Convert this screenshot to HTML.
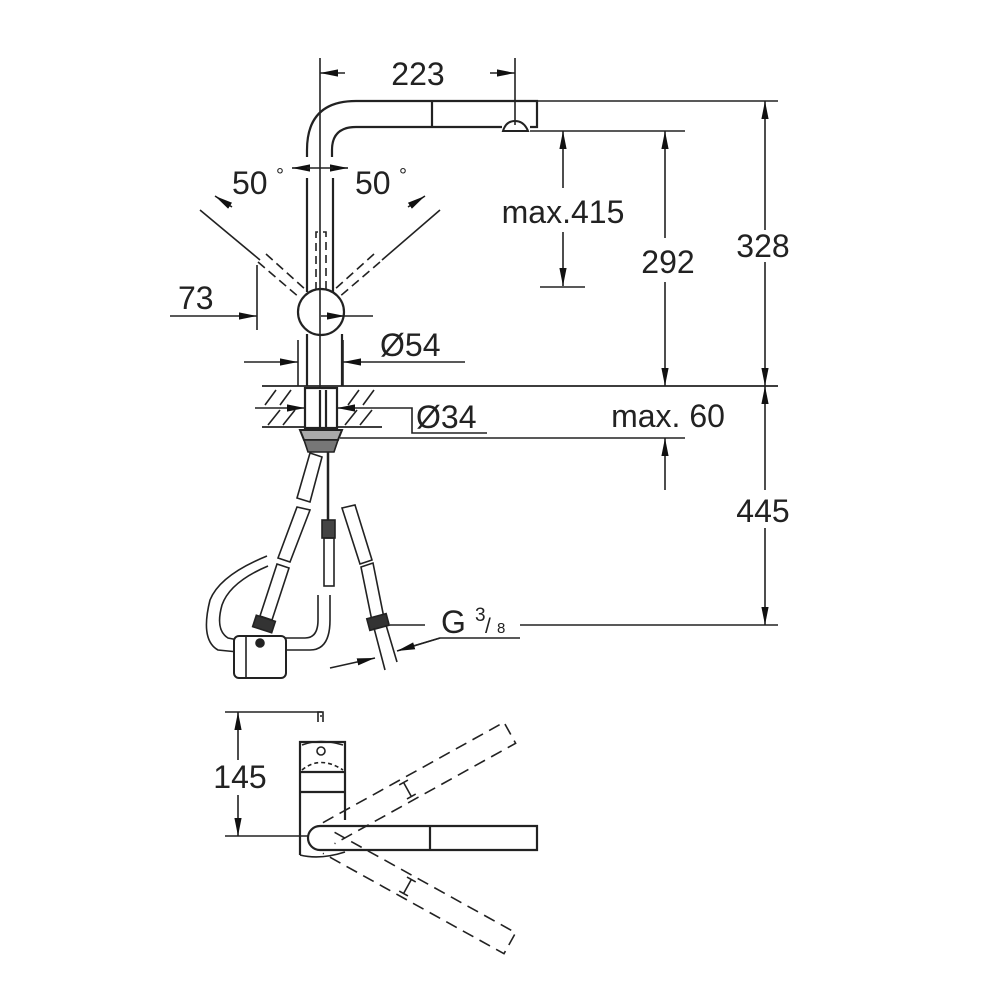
<!DOCTYPE html>
<html><head><meta charset="utf-8"><style>
html,body{margin:0;padding:0;background:#fff}
svg{display:block}
text{font-family:"Liberation Sans",Arial,sans-serif;fill:#222}
</style></head><body>
<svg width="1000" height="1000" viewBox="0 0 1000 1000" xmlns="http://www.w3.org/2000/svg">
<defs>
<marker id="a" viewBox="0 0 12 6" refX="12" refY="3" markerWidth="18" markerHeight="9" orient="auto" markerUnits="userSpaceOnUse"><path d="M0,0.6 L12,3 L0,5.4Z" fill="#111"/></marker>
<marker id="b" viewBox="0 0 12 6" refX="0" refY="3" markerWidth="18" markerHeight="9" orient="auto" markerUnits="userSpaceOnUse"><path d="M12,0.6 L0,3 L12,5.4Z" fill="#111"/></marker>
</defs>
<g stroke="#222" fill="none" stroke-width="1.6">
<line x1="320" y1="58" x2="320" y2="440"/>
<line x1="515" y1="58" x2="515" y2="125"/>
<line x1="345" y1="73" x2="320" y2="73" marker-end="url(#a)"/>
<line x1="490" y1="73" x2="515" y2="73" marker-end="url(#a)"/>
<path d="M307,157 V150 Q307,101 356,101 H537 V127 H530" stroke-width="2.2"/>
<path d="M332,157 V150 Q332,127 356,127 H502" stroke-width="2.2"/>
<line x1="432" y1="101" x2="432" y2="126" stroke-width="2.2"/>
<path d="M503,131 Q506,121 515,121 Q524,121 528,131 Z" stroke-width="2"/>
<line x1="292" y1="168" x2="307" y2="168" marker-start="url(#b)"/>
<line x1="333" y1="168" x2="348" y2="168" marker-end="url(#a)"/>
<line x1="307" y1="168" x2="333" y2="168"/>
<line x1="307" y1="178" x2="307" y2="292" stroke-width="2.2"/>
<line x1="333" y1="178" x2="333" y2="292" stroke-width="2.2"/>
<path d="M316,290 V232 H326 V290" stroke-dasharray="8,5"/>
<circle cx="321" cy="312" r="23" stroke-width="2.2"/>
<line x1="307" y1="334" x2="307" y2="386" stroke-width="2.2"/>
<line x1="342" y1="334" x2="342" y2="386" stroke-width="2.2"/>
<line x1="321" y1="316" x2="345" y2="316" marker-end="url(#a)"/>
<line x1="345" y1="316" x2="373" y2="316"/>
<line x1="200" y1="210" x2="260" y2="260"/>
<path d="M258,262 L300,298 M266,254 L306,290" stroke-dasharray="9,5"/>
<line x1="215" y1="196" x2="232" y2="207" marker-start="url(#b)"/>
<line x1="440" y1="210" x2="382" y2="260"/>
<path d="M380,262 L338,298 M374,254 L334,290" stroke-dasharray="9,5"/>
<line x1="425" y1="196" x2="408" y2="207" marker-start="url(#b)"/>
<line x1="170" y1="316" x2="257" y2="316" marker-end="url(#a)"/>
<line x1="257" y1="265" x2="257" y2="330"/>
<line x1="298" y1="340" x2="298" y2="386"/>
<line x1="343" y1="340" x2="343" y2="386"/>
<line x1="244" y1="362" x2="298" y2="362" marker-end="url(#a)"/>
<line x1="465" y1="362" x2="343" y2="362" marker-end="url(#a)"/>
<line x1="262" y1="386" x2="778" y2="386" stroke-width="1.8"/>
<line x1="262" y1="427" x2="382" y2="427" stroke-width="1.8"/>
<path d="M265,405 L276,390 M280,405 L291,390 M268,425 L280,410 M283,425 L295,410 M348,405 L359,390 M363,405 L374,390 M345,425 L357,410 M360,425 L372,410"/>
<rect x="305" y="388" width="32" height="40" fill="#fff" stroke-width="2.2"/>
<line x1="320" y1="390" x2="320" y2="428" stroke-width="2.2"/>
<line x1="326" y1="390" x2="326" y2="428" stroke-width="2.2"/>
<line x1="255" y1="408" x2="305" y2="408" marker-end="url(#a)"/>
<line x1="380" y1="408" x2="337" y2="408" marker-end="url(#a)"/>
<path d="M380,408 H412 V433 H487"/>
<path d="M300,430 H342 L338,440 H304 Z" fill="#aaa" stroke-width="2"/>
<path d="M304,440 H338 L334,452 H308 Z" fill="#777" stroke-width="1.6"/>
<line x1="340" y1="438" x2="685" y2="438"/>
<line x1="537" y1="101" x2="778" y2="101"/>
<line x1="530" y1="131" x2="685" y2="131"/>
<line x1="520" y1="625" x2="778" y2="625"/>
<line x1="765" y1="230" x2="765" y2="101" marker-end="url(#a)"/>
<line x1="765" y1="262" x2="765" y2="386" marker-end="url(#a)"/>
<line x1="765" y1="490" x2="765" y2="386" marker-end="url(#a)"/>
<line x1="765" y1="528" x2="765" y2="625" marker-end="url(#a)"/>
<line x1="665" y1="238" x2="665" y2="131" marker-end="url(#a)"/>
<line x1="665" y1="282" x2="665" y2="386" marker-end="url(#a)"/>
<line x1="665" y1="490" x2="665" y2="438" marker-end="url(#a)"/>
<line x1="563" y1="188" x2="563" y2="131" marker-end="url(#a)"/>
<line x1="563" y1="232" x2="563" y2="286" marker-end="url(#a)"/>
<line x1="540" y1="287" x2="585" y2="287"/>
<path d="M310,453 L322,457 L310,502 L297,498 Z"/>
<path d="M297,507 L310,510 L290,562 L278,558 Z"/>
<path d="M277,564 L289,568 L272,620 L260,616 Z"/>
<rect x="254" y="618" width="20" height="12" fill="#333" transform="rotate(18 264 624)"/>
<line x1="328" y1="452" x2="328" y2="520" stroke-width="2.5"/>
<rect x="322" y="520" width="13" height="18" fill="#444"/>
<rect x="324" y="538" width="10" height="48"/>
<path d="M342,508 L355,505 L372,560 L360,564 Z"/>
<path d="M361,567 L373,563 L384,618 L372,621 Z"/>
<rect x="368" y="616" width="20" height="12" fill="#333" transform="rotate(-15 378 622)"/>
<path d="M374,628 L385,670 M386,625 L397,662"/>
<path d="M267,556 Q220,575 210,600 Q200,640 218,650 L238,652 M268,566 Q230,582 222,605 Q215,630 228,638 L238,640"/>
<path d="M285,650 L310,650 Q330,650 330,620 V595 M285,638 L305,638 Q318,638 318,620 V595"/>
<rect x="234" y="636" width="52" height="42" rx="5" fill="#fff" stroke-width="2"/>
<line x1="246" y1="636" x2="246" y2="678"/>
<circle cx="260" cy="643" r="4" fill="#222"/>
<line x1="390" y1="625" x2="425" y2="625"/>
<path d="M520,638 H440 L400,650" />
<line x1="440" y1="638" x2="397" y2="651" marker-end="url(#a)"/>
<line x1="330" y1="668" x2="375" y2="658" marker-end="url(#a)"/>
<line x1="225" y1="712" x2="322" y2="712"/>
<line x1="225" y1="836" x2="310" y2="836"/>
<line x1="238" y1="760" x2="238" y2="712" marker-end="url(#a)"/>
<line x1="238" y1="795" x2="238" y2="836" marker-end="url(#a)"/>
<path d="M318,722 V712 H323 V722 M320,716 H322"/>
<path d="M300,855 V742 H345 V820" stroke-width="2.2"/>
<line x1="300" y1="772" x2="345" y2="772" stroke-width="2.2"/>
<line x1="300" y1="792" x2="345" y2="792" stroke-width="2.2"/>
<path d="M302,770 Q320,755 343,770" stroke-dasharray="4,3"/>
<circle cx="321" cy="751" r="4"/>
<path d="M302,745 Q320,738 343,745"/>
<path d="M300,855 Q320,860 345,852"/>
<path d="M320,826 H537 V850 H320 A12,12 0 0 1 320,826 Z" stroke-width="2.2" fill="#fff"/>
<line x1="430" y1="826" x2="430" y2="850" stroke-width="2.2"/>
<g transform="rotate(-29 320 838)" stroke-dasharray="12,7"><path d="M330,826 H537 V850 H330"/><path d="M420,830 V846 M415,830 H425 M415,846 H425" stroke-dasharray="none"/></g>
<g transform="rotate(29 320 838)" stroke-dasharray="12,7"><path d="M330,826 H537 V850 H330"/><path d="M420,830 V846 M415,830 H425 M415,846 H425" stroke-dasharray="none"/></g>
</g>
<g font-size="32">
<text x="418" y="85" text-anchor="middle">223</text>
<text x="232" y="194">50</text><text x="276" y="182" font-size="20">°</text>
<text x="355" y="194">50</text><text x="399" y="182" font-size="20">°</text>
<text x="178" y="309">73</text>
<text x="380" y="356">Ø54</text>
<text x="416" y="428">Ø34</text>
<text x="563" y="223" text-anchor="middle">max.415</text>
<text x="668" y="273" text-anchor="middle">292</text>
<text x="763" y="257" text-anchor="middle">328</text>
<text x="668" y="427" text-anchor="middle">max. 60</text>
<text x="763" y="522" text-anchor="middle">445</text>
<text x="441" y="633">G</text><text x="475" y="621" font-size="19">3</text><text x="485" y="633" font-size="21">/</text><text x="497" y="633" font-size="15">8</text>
<text x="240" y="788" text-anchor="middle">145</text>
</g>
</svg>
</body></html>
